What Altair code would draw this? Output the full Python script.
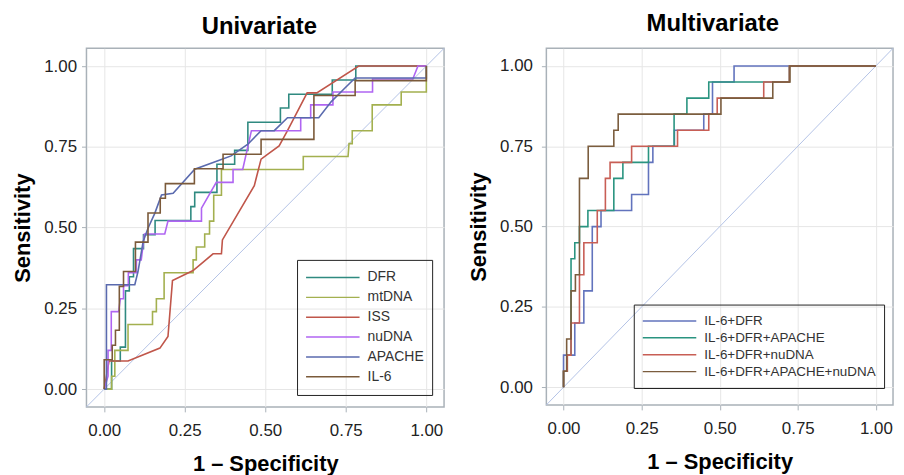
import altair as alt
import pandas as pd

FONT = "Liberation Sans"

# ---------------- Univariate ROC curves (1 - specificity, sensitivity) ----------------
uni_names = ["DFR", "mtDNA", "ISS", "nuDNA", "APACHE", "IL-6"]
uni_colors = ["#2f8a80", "#a3b04f", "#c0564a", "#b065f2", "#5a6aae", "#7b5a3a"]

dfr_x = [0, 0.023, 0.023, 0.05, 0.05, 0.066, 0.066, 0.078, 0.078, 0.091, 0.091, 0.122, 0.122,
         0.158, 0.158, 0.269, 0.269, 0.281, 0.281, 0.35, 0.35, 0.405, 0.405, 0.446, 0.446,
         0.547, 0.547, 0.573, 0.573, 0.708, 0.708, 0.781, 0.781, 1]
dfr_y = [0, 0, 0.087, 0.087, 0.13, 0.13, 0.304, 0.304, 0.348, 0.348, 0.435, 0.435, 0.478,
         0.478, 0.522, 0.522, 0.565, 0.565, 0.609, 0.609, 0.696, 0.696, 0.739, 0.739, 0.826,
         0.826, 0.87, 0.87, 0.913, 0.913, 0.957, 0.957, 1, 1]

mtdna_x = [0, 0.023, 0.023, 0.033, 0.033, 0.074, 0.074, 0.15, 0.15, 0.162, 0.162, 0.186, 0.186,
           0.276, 0.276, 0.286, 0.286, 0.312, 0.312, 0.327, 0.327, 0.34, 0.34, 0.364, 0.364,
           0.618, 0.618, 0.757, 0.76, 0.77, 0.77, 0.832, 0.832, 0.922, 0.922, 1, 1]
mtdna_y = [0, 0, 0.04, 0.04, 0.12, 0.12, 0.2, 0.2, 0.24, 0.24, 0.28, 0.28, 0.36,
           0.36, 0.4, 0.4, 0.44, 0.44, 0.48, 0.48, 0.52, 0.52, 0.6, 0.6, 0.68,
           0.68, 0.72, 0.72, 0.76, 0.76, 0.8, 0.8, 0.88, 0.88, 0.92, 0.92, 1]

iss_x = [0, 0.015, 0.074, 0.173, 0.198, 0.212, 0.276, 0.338, 0.364, 0.367, 0.466, 0.487,
         0.507, 0.543, 0.569, 0.63, 0.66, 0.79, 1]
iss_y = [0, 0.087, 0.087, 0.127, 0.163, 0.336, 0.367, 0.419, 0.419, 0.462, 0.63, 0.712,
         0.727, 0.753, 0.8, 0.917, 0.917, 1, 1]

nudna_x = [0, 0.012, 0.012, 0.022, 0.022, 0.045, 0.05, 0.06, 0.06, 0.075, 0.075, 0.1, 0.1,
           0.115, 0.125, 0.188, 0.198, 0.302, 0.302, 0.348, 0.4, 0.4, 0.43, 0.457, 0.61,
           0.61, 0.641, 0.641, 0.71, 0.71, 0.833, 0.833, 0.958, 0.974, 1]
nudna_y = [0, 0.04, 0.12, 0.12, 0.24, 0.24, 0.28, 0.28, 0.32, 0.32, 0.36, 0.36, 0.4,
           0.4, 0.48, 0.48, 0.52, 0.52, 0.56, 0.64, 0.64, 0.68, 0.68, 0.8, 0.8,
           0.84, 0.84, 0.88, 0.88, 0.92, 0.92, 0.96, 0.96, 1, 1]

apache_x = [0, 0.007, 0.007, 0.095, 0.105, 0.121, 0.136, 0.157, 0.178, 0.214, 0.281, 0.353,
            0.394, 0.446, 0.487, 0.528, 0.569, 0.666, 0.705, 0.745, 0.779, 1, 1]
apache_y = [0, 0, 0.323, 0.323, 0.364, 0.457, 0.498, 0.544, 0.601, 0.606, 0.681, 0.707,
            0.722, 0.758, 0.8, 0.8, 0.84, 0.84, 0.89, 0.93, 0.963, 0.963, 1]

il6_x = [0, 0, 0.025, 0.025, 0.035, 0.035, 0.047, 0.047, 0.06, 0.06, 0.097, 0.097, 0.136,
         0.136, 0.174, 0.174, 0.19, 0.19, 0.28, 0.28, 0.369, 0.369, 0.487, 0.487, 0.651,
         0.651, 0.779, 0.779, 1, 1]
il6_y = [0, 0.091, 0.091, 0.136, 0.136, 0.182, 0.182, 0.318, 0.318, 0.364, 0.364, 0.455, 0.455,
         0.545, 0.545, 0.591, 0.591, 0.636, 0.636, 0.682, 0.682, 0.727, 0.727, 0.773, 0.773,
         0.909, 0.909, 0.955, 0.955, 1]

# ---------------- Multivariate ROC curves ----------------
multi_names = ["IL-6+DFR", "IL-6+DFR+APACHE", "IL-6+DFR+nuDNA", "IL-6+DFR+APACHE+nuDNA"]
multi_colors = ["#6273bd", "#2a9480", "#c85e55", "#7b5d3e"]

m1_x = [0, 0, 0.036, 0.036, 0.065, 0.065, 0.092, 0.092, 0.12, 0.12, 0.218, 0.218, 0.272, 0.272,
        0.286, 0.286, 0.355, 0.355, 0.449, 0.449, 0.477, 0.477, 0.546, 0.546, 1]
m1_y = [0, 0.1, 0.1, 0.2, 0.2, 0.3, 0.3, 0.5, 0.5, 0.55, 0.55, 0.6, 0.6, 0.7,
        0.7, 0.75, 0.75, 0.8, 0.8, 0.85, 0.85, 0.95, 0.95, 1, 1]

m2_x = [0, 0, 0.012, 0.012, 0.024, 0.024, 0.036, 0.036, 0.051, 0.051, 0.078, 0.078, 0.161, 0.161,
        0.19, 0.19, 0.272, 0.272, 0.354, 0.354, 0.395, 0.395, 0.465, 0.465, 0.723, 0.723, 1]
m2_y = [0, 0.05, 0.05, 0.1, 0.1, 0.4, 0.4, 0.45, 0.45, 0.5, 0.5, 0.55, 0.55, 0.65,
        0.65, 0.7, 0.7, 0.75, 0.75, 0.85, 0.85, 0.9, 0.9, 0.95, 0.95, 1, 1]

m3_x = [0, 0, 0.012, 0.012, 0.024, 0.024, 0.051, 0.051, 0.065, 0.065, 0.108, 0.108, 0.134, 0.134,
        0.149, 0.149, 0.218, 0.218, 0.365, 0.365, 0.465, 0.465, 0.492, 0.492, 0.641, 0.641,
        0.723, 0.723, 1]
m3_y = [0, 0.05, 0.05, 0.1, 0.1, 0.2, 0.2, 0.35, 0.35, 0.45, 0.45, 0.55, 0.55, 0.65,
        0.65, 0.7, 0.7, 0.75, 0.75, 0.8, 0.8, 0.85, 0.85, 0.9, 0.9, 0.95,
        0.95, 1, 1]

m4_x = [0, 0, 0.01, 0.01, 0.024, 0.024, 0.038, 0.038, 0.051, 0.051, 0.079, 0.079, 0.161, 0.161,
        0.175, 0.175, 0.504, 0.504, 0.67, 0.67, 0.725, 0.725, 1]
m4_y = [0, 0.05, 0.05, 0.15, 0.15, 0.3, 0.3, 0.35, 0.35, 0.65, 0.65, 0.75, 0.75, 0.8,
        0.8, 0.85, 0.85, 0.9, 0.9, 0.95, 0.95, 1, 1]

tick_values = [0, 0.25, 0.5, 0.75, 1.0]
axis_domain = [-0.055, 1.055]


def build_df(names, xs, ys):
    rows = []
    for name, xv, yv in zip(names, xs, ys):
        for i, (a, b) in enumerate(zip(xv, yv)):
            rows.append({"series": name, "idx": i, "fpr": a, "tpr": b})
    return pd.DataFrame(rows)


uni_df = build_df(uni_names,
                  [dfr_x, mtdna_x, iss_x, nudna_x, apache_x, il6_x],
                  [dfr_y, mtdna_y, iss_y, nudna_y, apache_y, il6_y])
multi_df = build_df(multi_names, [m1_x, m2_x, m3_x, m4_x], [m1_y, m2_y, m3_y, m4_y])
diag_df = pd.DataFrame({"fpr": axis_domain, "tpr": axis_domain})


def panel(df, names, colors, title_text, w, h, lx, ly, ylab_pad, legend_font, row_h,
          title_dx, title_offset):
    xenc = alt.X("fpr:Q",
                 scale=alt.Scale(domain=axis_domain, nice=False, zero=False),
                 axis=alt.Axis(values=tick_values, format=".2f", title="1 – Specificity",
                               labelPadding=11, titlePadding=15))
    yenc = alt.Y("tpr:Q",
                 scale=alt.Scale(domain=axis_domain, nice=False, zero=False),
                 axis=alt.Axis(values=tick_values, format=".2f", title="Sensitivity",
                               labelPadding=ylab_pad, titlePadding=9))
    diag = alt.Chart(diag_df).mark_line(color="#b3c3e6", strokeWidth=1).encode(x=xenc, y=yenc)
    lines = alt.Chart(df).mark_line(strokeWidth=1.6).encode(
        x=xenc, y=yenc,
        color=alt.Color("series:N",
                        scale=alt.Scale(domain=names, range=colors),
                        legend=alt.Legend(orient="none", legendX=lx, legendY=ly, title=None,
                                          symbolType="stroke", symbolSize=2900,
                                          symbolStrokeWidth=1.5, clipHeight=row_h,
                                          strokeColor="#222222", padding=8,
                                          labelFont=FONT, labelFontSize=legend_font,
                                          labelColor="#333333", labelOffset=7,
                                          labelLimit=400, rowPadding=0)),
        order="idx:Q")
    return alt.layer(diag, lines).properties(
        width=w, height=h,
        title=alt.Title(title_text, font=FONT, fontSize=24, fontWeight="bold", color="black",
                        anchor="middle", frame="group", offset=title_offset, dx=title_dx))


left = panel(uni_df, uni_names, uni_colors, "Univariate", 360, 361, 212, 213, 5, 14, 19.5,
             -6, 7)
right = panel(multi_df, multi_names, multi_colors, "Multivariate", 349, 359, 88, 258, 9, 13.5, 17,
              -7, 10)

chart = alt.hconcat(left, right, spacing=20).resolve_scale(color="independent").properties(
    padding={"left": 3, "top": 2, "right": 0, "bottom": 0}
).configure_view(stroke="#a9b1b8", strokeWidth=1.5).configure_axis(
    grid=True, gridColor="#e6e6e6", gridWidth=1, domain=False,
    tickColor="#a9b1b8", tickSize=5, tickWidth=1,
    labelFont=FONT, labelFontSize=17, labelColor="#222222",
    titleFont=FONT, titleFontSize=22, titleFontWeight="bold", titleColor="black"
)

chart.save("out.html", embed_options={"renderer": "svg", "actions": False})
